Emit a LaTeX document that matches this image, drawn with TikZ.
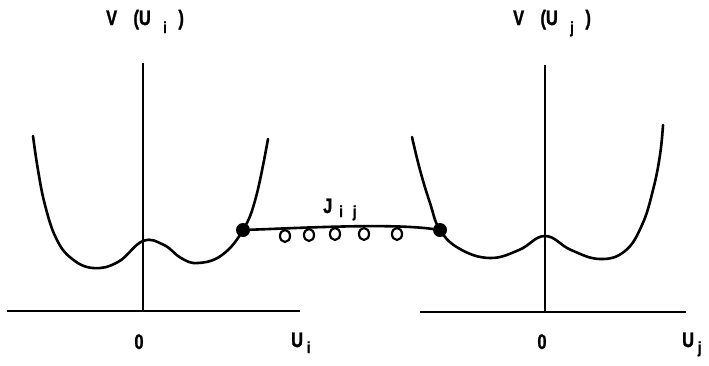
\documentclass[tikz,border=0pt]{standalone}
\usepackage{fontspec}
\setmainfont{Liberation Sans}
\newfontfamily\lblfont{Liberation Sans Bold}[FakeBold=1.5]
\newcommand{\lowsub}[2][8pt]{\raisebox{-#1}{\fontsize{16}{16}\selectfont #2}}
\tikzset{
  curve/.style={line width=2.6pt,line join=round,line cap=round},
  axis/.style={line width=2.4pt},
  lbl/.style={font=\fontsize{21}{23}\lblfont,inner sep=0pt},
  atom/.style={circle,fill=black,inner sep=0pt,minimum size=14pt}
}
\begin{document}
\begin{tikzpicture}[x=1pt,y=-1pt]
    \useasboundingbox (0,0) rectangle (709,365);
    % left well
    \draw[axis] (143,63) -- (143,311);
    \draw[axis] (7,311) -- (300,311);
    \draw[curve] plot[smooth,tension=0.7] coordinates {(33,136) (38,170) (45,205) (56,238)
      (71,258) (93,268) (118,262) (143,241) (164,245) (181,258) (198,263) (222,255)
      (243,230) (256,197) (268,139)};
    % right well
    \draw[axis] (545,65) -- (545,312);
    \draw[axis] (420,312) -- (686,312);
    \draw[curve] plot[smooth,tension=0.7] coordinates {(412,137) (420,170) (430,203)
      (440,230) (460,249) (490,258) (519,250) (545,236) (571,250) (600,259) (625,251)
      (642,225) (653,190) (660,155) (663,125)};
    % coupling
    \node[atom] (ai) at (243,230) {};
    \node[atom] (aj) at (440,230) {};
    \draw[curve] (ai) .. controls (300,228) and (390,223) .. (aj);
    \foreach \x/\y in {285/236,309/235,335/234,364/234,397/234}
      \draw[line width=2.2pt] (\x,\y) ellipse (5pt and 6pt);
    % labels
    \node[lbl,anchor=base west] (vi) at (106,25)
      {\scalebox{0.78}[1]{V\hspace{21pt}(U\hspace{16pt}\lowsub{i}\hspace{15pt})}};
    \node[lbl,anchor=base west] (vj) at (513,25)
      {\scalebox{0.78}[1]{V\hspace{21pt}(U\hspace{16pt}\lowsub{j}\hspace{15pt})}};
    \node[lbl,anchor=base west] (jij) at (323,213)
      {\scalebox{0.78}[1]{J\hspace{9pt}\lowsub[4pt]{i\hspace{13pt}j}}};
    \node[lbl,anchor=base] (zi) at (139,349) {\scalebox{0.78}[1]{0}};
    \node[lbl,anchor=base] (zj) at (542,349) {\scalebox{0.78}[1]{0}};
    \node[lbl,anchor=base west] (ui) at (291,347)
      {\scalebox{0.78}[1]{U\hspace{5pt}\lowsub[6pt]{i}}};
    \node[lbl,anchor=base west] (uj) at (682,347)
      {\scalebox{0.78}[1]{U\hspace{5pt}\lowsub[6pt]{j}}};
\end{tikzpicture}
\end{document}
